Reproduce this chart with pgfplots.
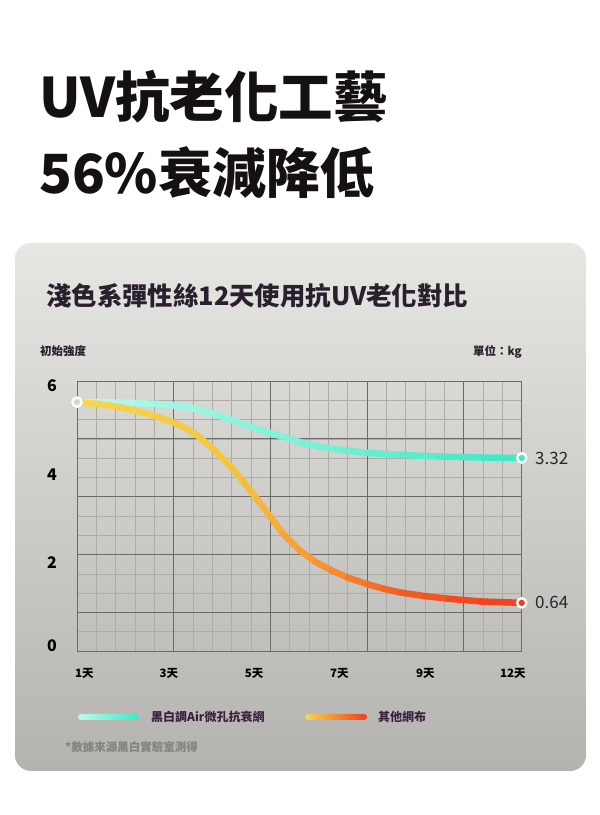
\documentclass[border=0pt]{standalone}
\usepackage{fontspec}
\setmainfont{Noto Sans CJK TC}
\usepackage{pgfplots}
\pgfplotsset{compat=1.18}

\definecolor{cardtop}{HTML}{E6E6E3}
\definecolor{cardbot}{HTML}{B5B3AF}
\definecolor{titleink}{HTML}{141014}
\definecolor{subink}{HTML}{2A1F2D}
\definecolor{legink}{HTML}{3A2140}
\definecolor{gridmajor}{HTML}{6A6A68}
\definecolor{gridminor}{HTML}{ADACA9}
\definecolor{noteink}{HTML}{858380}
\definecolor{mintA}{HTML}{BDF9EE}
\definecolor{mintB}{HTML}{3DE8C3}
\definecolor{warmA}{HTML}{F4D84E}
\definecolor{warmB}{HTML}{EE3E1C}

\pgfplotsset{
  colormap={mint}{rgb255(0cm)=(190,250,238) rgb255(11cm)=(60,232,195)},
  colormap={warm}{rgb255(0cm)=(244,216,78) rgb255(4cm)=(243,196,64) rgb255(6cm)=(246,150,52) rgb255(8cm)=(243,95,35) rgb255(11cm)=(238,62,28)},
}

\newcommand{\fs}[1]{\fontsize{#1bp}{#1bp}\selectfont}

\begin{document}
\begin{tikzpicture}
\path[use as bounding box, fill=white] (0,0) rectangle (600bp,815bp);

% headline
\node[anchor=base west, inner sep=0, text=titleink] at (39bp,697bp) {\fs{54.5}\bfseries UV抗老化工藝};
\node[anchor=base west, inner sep=0, text=titleink] at (39bp,621bp) {\fs{54}\bfseries 56\%衰減降低};

% card
\shade[top color=cardtop, bottom color=cardbot, rounded corners=16bp] (15bp,44bp) rectangle (586bp,572bp);

\node[anchor=base west, inner sep=0, text=subink] at (46bp,509bp) {\fs{25.4}\bfseries 淺色系彈性絲12天使用抗UV老化對比};
\node[anchor=base west, inner sep=0, text=subink] at (40bp,459bp) {\fs{11.5}\bfseries 初始強度};
\node[anchor=base east, inner sep=0, text=subink] at (522bp,459bp) {\fs{11.5}\bfseries 單位：kg};

\begin{axis}[
  at={(77bp,164bp)}, anchor=south west,
  scale only axis, width=444.7bp, height=270bp,
  xmin=1, xmax=12, ymin=0, ymax=6,
  axis line style={draw=gridmajor, line width=0.9bp},
  xtick={1.18,3.27,5.38,7.49,9.62,11.78},
  xticklabels={1天,3天,5天,7天,9天,12天},
  ytick={0.11,1.96,3.91,5.9},
  yticklabels={0,2,4,6},
  major tick length=0pt, minor tick length=0pt,
  minor xtick={1,1.4782609,...,12.01},
  minor ytick={0,0.4285714,...,6.01},
  xminorgrids, yminorgrids,
  minor grid style={draw=gridminor, line width=0.5bp},
  major grid style={draw=gridmajor, line width=0.9bp},
  extra x ticks={3.3913,5.7826,8.1739,10.5652},
  extra y ticks={0.8571,2.1429,3.4286,4.7143},
  extra x tick labels={}, extra y tick labels={},
  extra tick style={grid=major},
  xticklabel style={anchor=center, yshift=-22bp, font=\fs{11.5}\bfseries, text=black},
  yticklabel style={anchor=center, xshift=-25bp, font=\fs{16}\bfseries, text=black},
  clip=false,
]

% 黑白調Air微孔抗衰網
\addplot[mesh, point meta=x, colormap name=mint, line width=6.5bp, line cap=round] table {
x y
1 5.53
1.5 5.53
2 5.52
2.5 5.51
3 5.49
3.4 5.46
4 5.37
4.5 5.24
5 5.08
5.5 4.92
5.8 4.84
6.2 4.73
6.6 4.62
7 4.54
7.5 4.47
8.2 4.40
9 4.36
10 4.32
11 4.30
12 4.29
};

% 其他網布
\addplot[mesh, point meta=x, colormap name=warm, line width=6.5bp, line cap=round] table {
x y
1 5.53
1.5 5.49
2 5.43
2.6 5.31
3 5.20
3.4 5.07
3.7 4.95
4 4.77
4.4 4.46
4.8 4.10
5.1 3.78
5.45 3.38
5.8 2.96
6.1 2.60
6.5 2.24
6.9 1.98
7.3 1.79
7.7 1.63
8.2 1.48
8.6 1.38
9 1.30
9.6 1.22
10.2 1.16
11 1.10
12 1.07
};

\addplot[only marks, mark=*, mark size=4.6bp, mark options={fill=mintA!60!gray!60, draw=white, line width=2.4bp}] coordinates {(1,5.53)};

\addplot[only marks, mark=*, mark size=4.6bp, mark options={fill=mintB, draw=white, line width=2.4bp},
  point meta=explicit symbolic, nodes near coords, nodes near coords align={anchor=west},
  every node near coord/.append style={xshift=9bp, font=\fs{17}, text=black!85}]
  coordinates {(12,4.29) [3.32]};

\addplot[only marks, mark=*, mark size=4.6bp, mark options={fill=warmB, draw=white, line width=2.4bp},
  point meta=explicit symbolic, nodes near coords, nodes near coords align={anchor=west},
  every node near coord/.append style={xshift=9bp, font=\fs{17}, text=black!85}]
  coordinates {(12,1.07) [0.64]};
\end{axis}

% legend
\shade[left color=mintA, right color=mintB, rounded corners=3bp] (78bp,95bp) rectangle (139bp,101bp);
\node[anchor=west, inner sep=0, text=legink] at (151bp,98bp) {\fs{12}\bfseries 黑白調Air微孔抗衰網};
\shade[left color=warmA, right color=warmB, rounded corners=3bp] (305bp,95bp) rectangle (367bp,101bp);
\node[anchor=west, inner sep=0, text=legink] at (378bp,98bp) {\fs{12}\bfseries 其他網布};

\node[anchor=west, inner sep=0, text=noteink] at (65bp,68bp) {\fs{11.5}\bfseries *數據來源黑白實驗室測得};
\end{tikzpicture}
\end{document}
